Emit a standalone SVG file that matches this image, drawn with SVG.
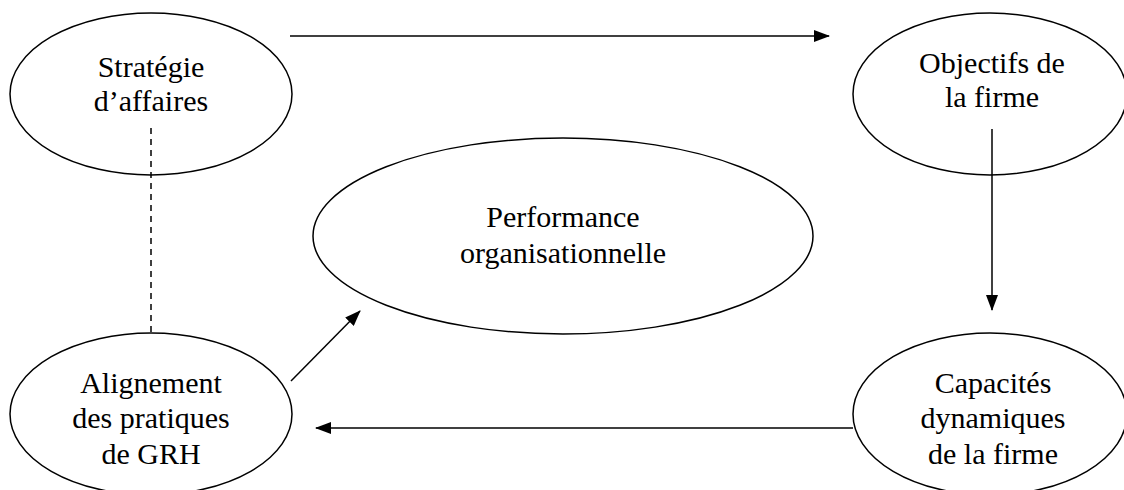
<svg xmlns="http://www.w3.org/2000/svg" width="1124" height="490" viewBox="0 0 1124 490">
<style>
.n{fill:#fff;stroke:#000;stroke-width:1.5}
.t{font-family:'Liberation Serif','Times New Roman','DejaVu Serif',serif;font-size:30px;fill:#000;text-anchor:middle}
.c{stroke:#000;stroke-width:1.5;fill:none}
</style>
<defs>
<marker id="ah" markerWidth="16" markerHeight="12" refX="15" refY="6" orient="auto" markerUnits="userSpaceOnUse">
<path d="M0,0 L16,6 L0,12 Z" fill="#000"/>
</marker>
</defs>
<rect width="1124" height="490" fill="#fff"/>
<g id="strategie">
<ellipse class="n" cx="151" cy="94" rx="141" ry="81"/>
<text class="t" x="151" y="77" font-family="Liberation Serif, Times New Roman, DejaVu Serif, serif">Stratégie</text>
<text class="t" x="151" y="111" font-family="Liberation Serif, Times New Roman, DejaVu Serif, serif">d’affaires</text>
</g>
<g id="objectifs">
<ellipse class="n" cx="990" cy="94" rx="137" ry="81"/>
<text class="t" x="992" y="73">Objectifs de</text>
<text class="t" x="992" y="107">la firme</text>
</g>
<g id="performance">
<ellipse class="n" cx="563" cy="236" rx="250" ry="98"/>
<text class="t" x="563" y="227">Performance</text>
<text class="t" x="563" y="263">organisationnelle</text>
</g>
<g id="alignement">
<ellipse class="n" cx="151" cy="414" rx="141" ry="81"/>
<text class="t" x="151" y="393">Alignement</text>
<text class="t" x="151" y="428">des pratiques</text>
<text class="t" x="151" y="464">de GRH</text>
</g>
<g id="capacites">
<ellipse class="n" cx="990" cy="414" rx="137" ry="81"/>
<text class="t" x="993" y="393">Capacités</text>
<text class="t" x="993" y="428">dynamiques</text>
<text class="t" x="993" y="464">de la firme</text>
</g>
<g id="connectors">
<line class="c" x1="290" y1="36" x2="829" y2="36" marker-end="url(#ah)"/>
<line class="c" x1="992" y1="129" x2="992" y2="310" marker-end="url(#ah)"/>
<line class="c" x1="853" y1="428" x2="316" y2="428" marker-end="url(#ah)"/>
<line class="c" x1="291" y1="381" x2="360" y2="311" marker-end="url(#ah)"/>
<line class="c" x1="151" y1="128" x2="151" y2="333" stroke-dasharray="6,5"/>
</g>
</svg>
